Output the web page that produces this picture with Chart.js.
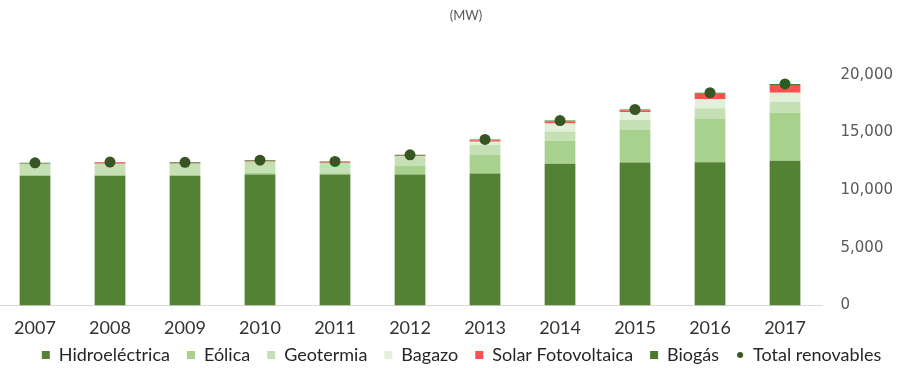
<!DOCTYPE html>
<html>
<head>
<meta charset="utf-8">
<title>Capacidad renovable</title>
<script src="https://cdn.jsdelivr.net/npm/chart.js@4.4.1/dist/chart.umd.min.js"></script>
<style>
    html, body { margin: 0; padding: 0; background: #fff; overflow: hidden; }
    #wrap { position: absolute; left: -8.5px; top: 0; width: 934px; height: 396px; }
</style>
</head>
<body>
<div id="wrap"><canvas id="capacityChart"></canvas></div>
<script>
// Capacidad instalada renovable por tecnología (MW)
const years = ['2007', '2008', '2009', '2010', '2011', '2012', '2013', '2014', '2015', '2016', '2017'];
const hidro  = [11250, 11250, 11250, 11360, 11360, 11360, 11450, 12290, 12400, 12430, 12550];
const eolica = [85, 85, 85, 150, 120, 750, 1640, 2010, 2830, 3740, 4170];
const geoterm = [965, 965, 965, 965, 890, 840, 825, 785, 860, 950, 940];
const bagazo = [0, 0, 0, 0, 0, 0, 280, 715, 700, 790, 800];
const solar  = [0, 110, 20, 30, 30, 40, 140, 170, 140, 470, 680];
const biogas = [80, 30, 100, 100, 100, 80, 75, 75, 75, 80, 80];
const totalRenovables = [12380, 12440, 12420, 12605, 12500, 13070, 14410, 16045, 17005, 18460, 19220];
const yTicks = [0, 5000, 10000, 15000, 20000];

const colors = {
    hidro: '#548235',
    eolica: '#a9d18e',
    geoterm: '#c5e0b4',
    bagazo: '#e2f0d9',
    solar: '#ff5050',
    biogas: '#4a7a2c',
    total: '#375623'
};

// small dot used for the "Total renovables" legend entry
const legendDot = document.createElement('canvas');
legendDot.width = 8;
legendDot.height = 8;
const dctx = legendDot.getContext('2d');
dctx.fillStyle = colors.total;
dctx.beginPath();
dctx.arc(4, 4, 3, 0, Math.PI * 2);
dctx.fill();

function barSet(label, data, color) {
    return {
        type: 'bar',
        label: label,
        data: data,
        backgroundColor: color,
        borderWidth: 0,
        pointStyle: 'rect',
        stack: 'capacidad',
        order: 1
    };
}

// "(MW)" caption above the plot
const unitCaption = {
    id: 'unitCaption',
    afterDraw(chart) {
        const ctx = chart.ctx;
        ctx.save();
        ctx.font = "13px 'Lato', sans-serif";
        ctx.fillStyle = '#595959';
        ctx.textAlign = 'center';
        ctx.textBaseline = 'middle';
        ctx.fillText('(MW)', 474, 16);
        ctx.restore();
    }
};

// pull the legend row up under the year labels
const legendShift = {
    id: 'legendShift',
    afterLayout(chart) {
        const lg = chart.legend;
        lg.top -= 22;
        lg.bottom -= 22;
        lg.left += 10;
        lg.right += 10;
    }
};

const ctx = document.getElementById('capacityChart').getContext('2d');
new Chart(ctx, {
    data: {
        labels: years,
        datasets: [
            barSet('Hidroeléctrica', hidro, colors.hidro),
            barSet('Eólica', eolica, colors.eolica),
            barSet('Geotermia', geoterm, colors.geoterm),
            barSet('Bagazo', bagazo, colors.bagazo),
            barSet('Solar Fotovoltaica', solar, colors.solar),
            barSet('Biogás', biogas, colors.biogas),
            {
                type: 'line',
                label: 'Total renovables',
                data: totalRenovables,
                showLine: false,
                stack: 'total',
                pointRadius: 5.5,
                pointBorderWidth: 0,
                pointBackgroundColor: colors.total,
                backgroundColor: colors.total,
                pointStyle: 'circle',
                clip: false,
                order: 0
            }
        ]
    },
    options: {
        responsive: true,
        maintainAspectRatio: false,
        animation: false,
        layout: { padding: { top: 75, right: 15, bottom: 0, left: 0 } },
        datasets: {
            bar: { barPercentage: 0.41, categoryPercentage: 1 }
        },
        plugins: {
            legend: {
                position: 'bottom',
                labels: {
                    usePointStyle: true,
                    boxWidth: 8,
                    boxHeight: 8,
                    padding: 17,
                    color: '#262626',
                    font: { family: "'Lato', sans-serif", size: 18 },
                    sort: (a, b) => a.datasetIndex - b.datasetIndex,
                    generateLabels(chart) {
                        const items = Chart.defaults.plugins.legend.labels.generateLabels(chart);
                        items.forEach(item => {
                            if (item.text === 'Total renovables') item.pointStyle = legendDot;
                        });
                        return items;
                    }
                }
            },
            tooltip: { enabled: false }
        },
        scales: {
            x: {
                stacked: true,
                grid: { display: false, drawTicks: false },
                border: { display: true, color: '#d9d9d9', width: 1 },
                ticks: {
                    padding: 12,
                    color: '#333333',
                    font: { family: "'Lato', sans-serif", size: 18 }
                }
            },
            y: {
                stacked: true,
                position: 'right',
                min: 0,
                max: 20000,
                afterBuildTicks(axis) {
                    axis.ticks = yTicks.map(v => ({ value: v }));
                },
                grid: { display: false, drawTicks: false },
                border: { display: false },
                ticks: {
                    padding: 18,
                    color: '#595959',
                    font: { family: "'DejaVu Sans', sans-serif", size: 15 },
                    callback: v => v.toLocaleString('en-US')
                }
            }
        }
    },
    plugins: [unitCaption, legendShift]
});
</script>
</body>
</html>
